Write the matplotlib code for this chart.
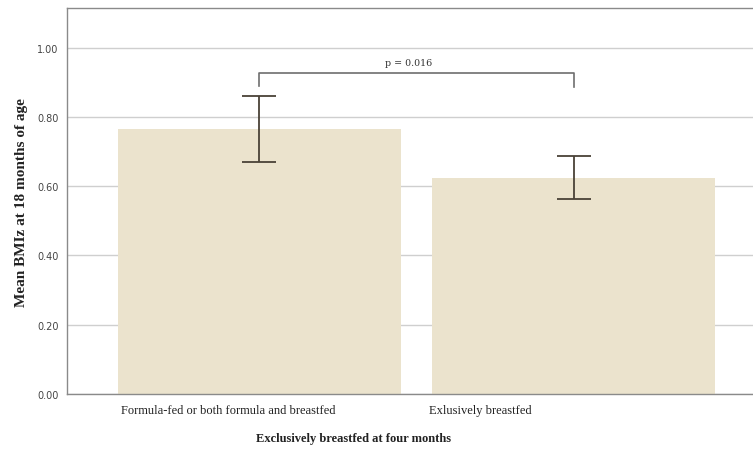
import matplotlib
matplotlib.use("Agg")
import matplotlib.pyplot as plt
import matplotlib.transforms as mtransforms

# mean BMIz at 18 months with 95% CI, by feeding group
groups = ["Formula-fed or both formula and breastfed", "Exlusively breastfed"]
means = [0.765, 0.623]
ci_low = [0.670, 0.562]
ci_high = [0.861, 0.688]
yticks = [0.0, 0.2, 0.4, 0.6, 0.8, 1.0]
p_label = "p = 0.016"

bar_color = "#ebe3cd"
err_color = "#4a4237"

fig = plt.figure(figsize=(7.53, 4.52), dpi=100)
ax = fig.add_axes([67 / 753, 1 - 395 / 452, 699 / 753, 386 / 452])

x = list(range(len(groups)))
ax.bar(x, means, width=0.9, color=bar_color, zorder=2)
yerr = [[m - lo for m, lo in zip(means, ci_low)], [hi - m for m, hi in zip(means, ci_high)]]
ax.errorbar(x, means, yerr=yerr, fmt="none", ecolor=err_color, elinewidth=1.3,
            capsize=12.5, capthick=1.3, zorder=3)

ax.set_xlim(-0.613, 1.613)
ax.set_ylim(0, 1.114)
ax.set_yticks(yticks)
ax.set_yticklabels([f"{v:.2f}" for v in yticks], fontsize=7, color="#444444",
                   family="DejaVu Sans")
ax.yaxis.grid(True, color="#cfcfcf", linewidth=1.0, zorder=0)
ax.set_axisbelow(True)
ax.tick_params(axis="y", length=0, pad=6)
ax.set_xticks([])
for s in ["left", "bottom", "top", "right"]:
    ax.spines[s].set_color("#8a8a8a")
    ax.spines[s].set_linewidth(1.0)

# category labels under the bars
trans = mtransforms.blended_transform_factory(ax.transData, ax.transAxes)
label_x = [-0.10, 0.702]
for lx, g in zip(label_x, groups):
    ax.text(lx, -0.027, g, transform=trans, ha="center", va="top",
            fontsize=9, family="Liberation Serif", color="#222222")

# significance bracket
ax.plot([0, 0, 1, 1], [0.890, 0.925, 0.925, 0.886], color="#6e6e6e",
        linewidth=1.2, clip_on=False, zorder=3)
ax.text(0.476, 0.945, p_label, ha="center", va="bottom", fontsize=6.8,
        family="DejaVu Serif", color="#333333")

fig.text(354 / 753, 1 - 439 / 452, "Exclusively breastfed at four months",
         ha="center", va="center", fontsize=9, fontweight="bold",
         family="Liberation Serif", color="#222222")
fig.text(22 / 753, 1 - 203 / 452, "Mean BMIz at 18 months of age",
         ha="center", va="center", rotation=90, fontsize=11, fontweight="bold",
         family="Liberation Serif", color="#222222")

fig.savefig("out.png", dpi=100)
